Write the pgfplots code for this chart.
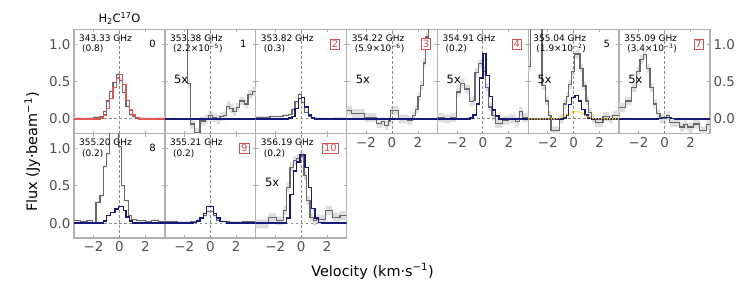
\documentclass[border=0pt]{standalone}
\usepackage{pgfplots}
\pgfplotsset{compat=1.18}
\usepgfplotslibrary{fillbetween}
\usepackage{pgfplotstable}
\usepackage{fontspec}
\setmainfont{DejaVu Sans}
\definecolor{dgray}{RGB}{105,105,105}
\definecolor{bandc}{RGB}{222,222,222}
\definecolor{mnavy}{RGB}{25,25,120}
\definecolor{mred}{RGB}{228,85,85}
\definecolor{myel}{RGB}{255,215,0}
\definecolor{framec}{RGB}{176,176,176}
\definecolor{ticklab}{RGB}{80,80,80}
\definecolor{boxred}{RGB}{215,80,80}
\definecolor{zerol}{RGB}{140,140,140}

\pgfplotsset{
  panel/.style={
    scale only axis, width=90.857bp, height=104.25bp, anchor=south west,
    xmin=-3.5, xmax=3.5, ymin=-0.2, ymax=1.2,
    xtick={-2,0,2}, ytick={0,0.5,1},
    xticklabels={,,}, yticklabels={,,},
    tick align=inside, major tick length=3bp,
    axis line style={framec, line width=1.3bp},
    tick style={framec, line width=0.8bp},
    tick label style={font=\fontsize{13.5}{14}\selectfont, text=ticklab},
    clip=true, set layers,
  },
  xlab/.style={xticklabels={−2,0,2}},
  ylabL/.style={yticklabels={0.0,0.5,1.0}},
  ylabR/.style={yticklabels={0.0,0.5,1.0}, yticklabel pos=right},
  obs/.style={dgray, line width=1.2bp, const plot, no marks},
  mod/.style={mnavy, line width=1.3bp, const plot, no marks},
  modr/.style={mred, line width=1.3bp, const plot, no marks},
}
\tikzset{
  zl/.style={zerol, line width=0.8bp, dash pattern=on 2.5bp off 2.5bp},
  freq/.style={anchor=north west, inner sep=0pt, align=left, font=\fontsize{9}{10.5}\selectfont},
  num/.style={anchor=east, inner sep=1.5pt, font=\fontsize{10}{11}\selectfont},
  rnum/.style={anchor=east, inner sep=1.5pt, draw=boxred, fill=white, text=boxred, line width=0.6bp, font=\fontsize{10}{11}\selectfont},
  fivex/.style={anchor=west, inner sep=0pt, font=\fontsize{11.5}{12}\selectfont},
}
% band: step-shaped uncertainty band of half-width #2 around table #1
\newcommand{\band}[2]{%
  \addplot[draw=none, const plot, no marks, name path=bu] table[y expr=\thisrow{y}+#2] {#1};
  \addplot[draw=none, const plot, no marks, name path=bl] table[y expr=\thisrow{y}-#2] {#1};
  \addplot[bandc, draw=none] fill between[of=bu and bl];
}

% ---------- data (x = left channel edge, y in Jy/beam) ----------
\pgfplotstableread[row sep=\\]{x y\\ -3.5 0.01\\ -3.0 0.0\\ -2.5 0.01\\ -2.0 0.02\\ -1.5 0.03\\ -1.25 0.1\\ -1.0 0.24\\ -0.75 0.37\\ -0.5 0.49\\ -0.25 0.6\\ 0.0 0.52\\ 0.25 0.35\\ 0.5 0.17\\ 0.75 0.06\\ 1.0 0.03\\ 1.25 0.01\\ 2.0 0.0\\ 2.75 0.01\\ 3.5 0.01\\}\gA
\pgfplotstableread[row sep=\\]{x y\\ -3.5 0.0\\ -1.5 0.01\\ -1.25 0.05\\ -1.0 0.14\\ -0.75 0.27\\ -0.5 0.42\\ -0.25 0.55\\ 0.0 0.6\\ 0.25 0.46\\ 0.5 0.25\\ 0.75 0.12\\ 1.0 0.05\\ 1.25 0.02\\ 1.5 0.0\\ 3.5 0.0\\}\rA
\pgfplotstableread[row sep=\\]{x y\\ -3.5 0\\ 3.5 0\\}\mFlat
\pgfplotstableread[row sep=\\]{x y\\ -3.5 2.0\\ -1.75 0.47\\ -1.55 -0.07\\ -1.2 -0.18\\ -0.8 -0.03\\ -0.4 0.0\\ -0.15 0.04\\ 0.2 0.02\\ 0.5 -0.01\\ 0.75 0.03\\ 1.0 0.04\\ 1.25 0.17\\ 1.5 0.14\\ 1.75 0.1\\ 2.0 0.15\\ 2.25 0.24\\ 2.65 0.2\\ 2.9 0.33\\ 3.25 0.37\\ 3.5 0.37\\}\gB
\pgfplotstableread[row sep=\\]{x y\\ -3.5 0.02\\ -2.4 0.03\\ -1.4 0.05\\ -0.95 0.06\\ -0.7 0.13\\ -0.47 0.23\\ -0.22 0.33\\ 0.03 0.22\\ 0.28 0.09\\ 0.54 0.03\\ 0.8 0.01\\ 1.5 0.0\\ 2.5 0.01\\ 3.5 0.01\\}\gC
\pgfplotstableread[row sep=\\]{x y\\ -3.5 0\\ -0.95 0.01\\ -0.7 0.03\\ -0.47 0.14\\ -0.22 0.27\\ 0.03 0.29\\ 0.28 0.16\\ 0.54 0.05\\ 0.8 0.01\\ 1.05 0.0\\ 3.5 0\\}\mC
\pgfplotstableread[row sep=\\]{x y\\ -3.5 0.11\\ -3.1 0.07\\ -2.1 0.02\\ -1.2 -0.06\\ -0.8 -0.04\\ -0.55 -0.09\\ -0.3 -0.03\\ -0.1 0.11\\ 0.5 0.0\\ 1.2 -0.02\\ 1.55 0.04\\ 1.8 0.13\\ 2.0 0.3\\ 2.2 0.45\\ 2.4 0.75\\ 2.6 1.1\\ 2.8 1.5\\ 3.5 1.5\\}\gD
\pgfplotstableread[row sep=\\]{x y\\ -3.5 0.02\\ -3.0 0.0\\ -2.5 0.02\\ -2.05 0.36\\ -1.75 0.48\\ -1.4 0.4\\ -1.0 0.23\\ -0.75 0.25\\ -0.6 0.62\\ -0.35 0.74\\ -0.05 0.64\\ 0.2 0.42\\ 0.45 0.16\\ 0.7 0.04\\ 0.95 -0.06\\ 1.5 -0.02\\ 2.0 0.0\\ 2.5 -0.04\\ 2.8 0.1\\ 3.05 0.02\\ 3.5 0.02\\}\gE
\pgfplotstableread[row sep=\\]{x y\\ -3.5 0\\ -1.0 0.01\\ -0.75 0.05\\ -0.5 0.2\\ -0.25 0.55\\ 0.0 0.88\\ 0.25 0.58\\ 0.5 0.3\\ 0.75 0.12\\ 1.0 0.04\\ 1.25 0.0\\ 3.5 0\\}\mE
\pgfplotstableread[row sep=\\]{x y\\ -3.5 0.7\\ -3.3 1.5\\ -2.45 0.45\\ -2.2 0.24\\ -1.95 0.05\\ -1.75 -0.16\\ -1.1 0.0\\ -0.8 0.2\\ -0.55 0.3\\ -0.42 0.46\\ -0.17 0.64\\ 0.09 0.87\\ 0.48 0.68\\ 0.72 0.44\\ 0.95 0.24\\ 1.15 0.08\\ 1.4 0.0\\ 1.65 -0.05\\ 2.25 0.03\\ 2.75 0.0\\ 3.0 0.05\\ 3.5 0.05\\}\gF
\pgfplotstableread[row sep=\\]{x y\\ -3.5 0\\ -0.8 0.01\\ -0.55 0.05\\ -0.42 0.19\\ -0.17 0.29\\ 0.09 0.31\\ 0.35 0.24\\ 0.6 0.13\\ 0.86 0.05\\ 1.1 0.01\\ 1.35 0.0\\ 3.5 0\\}\mF
\pgfplotstableread[row sep=\\]{x y\\ -3.5 0\\ -1.5 0.0\\ -1.25 0.005\\ -1.0 0.015\\ -0.75 0.03\\ -0.5 0.055\\ -0.25 0.08\\ 0.0 0.097\\ 0.15 0.1\\ 0.3 0.097\\ 0.55 0.08\\ 0.8 0.055\\ 1.05 0.03\\ 1.3 0.015\\ 1.55 0.005\\ 1.8 0.0\\ 3.5 0\\}\yF
\pgfplotstableread[row sep=\\]{x y\\ -3.5 0.15\\ -3.04 0.24\\ -2.53 0.42\\ -2.15 0.64\\ -1.89 0.8\\ -1.63 0.86\\ -1.38 0.68\\ -1.12 0.42\\ -0.86 0.2\\ -0.6 0.07\\ -0.35 0.0\\ 0.16 0.04\\ 0.4 -0.05\\ 1.18 -0.11\\ 1.5 -0.08\\ 1.75 -0.11\\ 2.2 -0.07\\ 2.72 -0.16\\ 3.23 -0.08\\ 3.5 -0.08\\}\gG
\pgfplotstableread[row sep=\\]{x y\\ -3.5 0\\ -0.5 0.005\\ -0.25 0.015\\ 0.0 0.02\\ 0.25 0.015\\ 0.5 0.005\\ 0.75 0\\ 3.5 0\\}\mG
\pgfplotstableread[row sep=\\]{x y\\ -3.5 0.03\\ -3.0 0.02\\ -2.5 0.03\\ -2.05 0.0\\ -1.8 0.28\\ -1.5 0.37\\ -1.25 0.76\\ -1.0 0.93\\ -0.75 1.3\\ -0.35 1.25\\ -0.1 1.03\\ 0.17 0.5\\ 0.42 0.3\\ 0.67 0.1\\ 0.92 0.05\\ 1.3 0.03\\ 2.0 0.02\\ 2.5 0.04\\ 3.0 0.02\\ 3.5 0.02\\}\gH
\pgfplotstableread[row sep=\\]{x y\\ -3.5 0\\ -1.5 0.0\\ -1.23 0.03\\ -0.97 0.1\\ -0.71 0.14\\ -0.33 0.19\\ -0.08 0.22\\ 0.3 0.17\\ 0.51 0.08\\ 0.76 0.03\\ 1.02 0.0\\ 3.5 0\\}\mH
\pgfplotstableread[row sep=\\]{x y\\ -3.5 0.02\\ -2.5 0.01\\ -1.5 0.02\\ -1.05 0.04\\ -0.79 0.07\\ -0.53 0.1\\ -0.28 0.16\\ 0.23 0.1\\ 0.49 0.04\\ 0.74 0.02\\ 1.5 0.01\\ 2.5 0.02\\ 3.5 0.02\\}\gI
\pgfplotstableread[row sep=\\]{x y\\ -3.5 0\\ -1.3 0.01\\ -1.05 0.03\\ -0.79 0.07\\ -0.53 0.13\\ -0.28 0.22\\ 0.23 0.13\\ 0.49 0.07\\ 0.74 0.02\\ 1.26 0\\ 3.5 0\\}\mI
\pgfplotstableread[row sep=\\]{x y\\ -3.5 -0.01\\ -2.5 0.07\\ -1.9 0.03\\ -1.37 0.17\\ -1.12 0.48\\ -0.86 0.75\\ -0.6 0.84\\ -0.35 0.87\\ -0.09 0.9\\ 0.22 0.64\\ 0.42 0.3\\ 0.68 0.08\\ 0.93 0.03\\ 1.2 0.05\\ 1.9 0.17\\ 2.4 0.08\\ 3.0 0.1\\ 3.5 0.1\\}\gJ
\pgfplotstableread[row sep=\\]{x y\\ -3.5 0\\ -1.37 0.0\\ -1.12 0.07\\ -0.86 0.38\\ -0.6 0.7\\ -0.35 0.82\\ -0.09 0.92\\ 0.29 0.75\\ 0.55 0.48\\ 0.8 0.2\\ 1.06 0.07\\ 1.32 0.01\\ 1.57 0\\ 3.5 0\\}\mJ

\begin{document}
\begin{tikzpicture}[x=1bp,y=1bp]
% ---------------- top row ----------------
% panel 0
\begin{axis}[panel, ylabL, at={(74bp,165.25bp)}]
\band{\gA}{0.015}
\draw[zl] (0,-0.2) -- (0,1.2); \draw[zl] (-3.5,0) -- (3.5,0);
\addplot[obs] table {\gA};
\addplot[modr] table {\rA};
\node[freq] at (rel axis cs:0,1) [xshift=5bp,yshift=-5bp] {343.33 GHz\\\hspace*{3pt}(0.8)};
\node[num] at (rel axis cs:1,1) [xshift=-7.5bp,yshift=-14.5bp] {0};
\end{axis}
\node[anchor=base, font=\fontsize{11.5}{12}\selectfont] at (119.5bp,276.5bp) {H\textsubscript{2}C\textsuperscript{17}O};
% panel 1
\begin{axis}[panel, at={(164.857bp,165.25bp)}]
\band{\gB}{0.06}
\draw[zl] (0,-0.2) -- (0,1.2); \draw[zl] (-3.5,0) -- (3.5,0);
\addplot[obs] table {\gB};
\addplot[mod] table {\mFlat};
\node[freq] at (rel axis cs:0,1) [xshift=5bp,yshift=-5bp] {353.38 GHz\\\hspace*{3pt}(2.2×10\textsuperscript{−5})};
\node[num] at (rel axis cs:1,1) [xshift=-7.5bp,yshift=-14.5bp] {1};
\node[fivex] at (-2.8,0.53) {5x};
\end{axis}
% panel 2
\begin{axis}[panel, at={(255.714bp,165.25bp)}]
\band{\gC}{0.015}
\draw[zl] (0,-0.2) -- (0,1.2); \draw[zl] (-3.5,0) -- (3.5,0);
\addplot[obs] table {\gC};
\addplot[mod] table {\mC};
\node[freq] at (rel axis cs:0,1) [xshift=5bp,yshift=-5bp] {353.82 GHz\\\hspace*{3pt}(0.3)};
\node[rnum] at (rel axis cs:1,1) [xshift=-6.5bp,yshift=-14.5bp] {2};
\end{axis}
% panel 3
\begin{axis}[panel, xlab, at={(346.571bp,165.25bp)}]
\band{\gD}{0.06}
\draw[zl] (0,-0.2) -- (0,1.2); \draw[zl] (-3.5,0) -- (3.5,0);
\addplot[obs] table {\gD};
\addplot[mod] table {\mFlat};
\node[freq] at (rel axis cs:0,1) [xshift=5bp,yshift=-5bp] {354.22 GHz\\\hspace*{3pt}(5.9×10\textsuperscript{−6})};
\node[rnum] at (rel axis cs:1,1) [xshift=-6.5bp,yshift=-14.5bp] {3};
\node[fivex] at (-2.8,0.53) {5x};
\end{axis}
% panel 4
\begin{axis}[panel, xlab, at={(437.429bp,165.25bp)}]
\band{\gE}{0.06}
\draw[zl] (0,-0.2) -- (0,1.2); \draw[zl] (-3.5,0) -- (3.5,0);
\addplot[obs] table {\gE};
\addplot[mod] table {\mE};
\node[freq] at (rel axis cs:0,1) [xshift=5bp,yshift=-5bp] {354.91 GHz\\\hspace*{3pt}(0.2)};
\node[rnum] at (rel axis cs:1,1) [xshift=-6.5bp,yshift=-14.5bp] {4};
\node[fivex] at (-2.8,0.53) {5x};
\end{axis}
% panel 5
\begin{axis}[panel, xlab, at={(528.286bp,165.25bp)}]
\band{\gF}{0.06}
\draw[zl] (0,-0.2) -- (0,1.2); \draw[zl] (-3.5,0) -- (3.5,0);
\addplot[obs] table {\gF};
\addplot[mod] table {\mF};
\addplot[myel, line width=1.4bp, dash pattern=on 1.4bp off 1.4bp, no marks] table {\yF};
\node[freq] at (rel axis cs:0,1) [xshift=5bp,yshift=-5bp] {355.04 GHz\\\hspace*{3pt}(1.9×10\textsuperscript{−2})};
\node[num] at (rel axis cs:1,1) [xshift=-7.5bp,yshift=-14.5bp] {5};
\node[fivex] at (-2.8,0.53) {5x};
\end{axis}
% panel 7
\begin{axis}[panel, xlab, ylabR, at={(619.143bp,165.25bp)}]
\band{\gG}{0.06}
\draw[zl] (0,-0.2) -- (0,1.2); \draw[zl] (-3.5,0) -- (3.5,0);
\addplot[obs] table {\gG};
\addplot[mod] table {\mG};
\node[freq] at (rel axis cs:0,1) [xshift=5bp,yshift=-5bp] {355.09 GHz\\\hspace*{3pt}(3.4×10\textsuperscript{−3})};
\node[rnum] at (rel axis cs:1,1) [xshift=-6.5bp,yshift=-14.5bp] {7};
\node[fivex] at (-2.8,0.53) {5x};
\end{axis}
% ---------------- bottom row ----------------
% panel 8
\begin{axis}[panel, xlab, ylabL, at={(74bp,61bp)}]
\band{\gH}{0.015}
\draw[zl] (0,-0.2) -- (0,1.2); \draw[zl] (-3.5,0) -- (3.5,0);
\addplot[obs] table {\gH};
\addplot[mod] table {\mH};
\node[freq] at (rel axis cs:0,1) [xshift=5bp,yshift=-5bp] {355.20 GHz\\\hspace*{3pt}(0.2)};
\node[num] at (rel axis cs:1,1) [xshift=-7.5bp,yshift=-14.5bp] {8};
\end{axis}
% panel 9
\begin{axis}[panel, xlab, at={(164.857bp,61bp)}]
\band{\gI}{0.015}
\draw[zl] (0,-0.2) -- (0,1.2); \draw[zl] (-3.5,0) -- (3.5,0);
\addplot[obs] table {\gI};
\addplot[mod] table {\mI};
\node[freq] at (rel axis cs:0,1) [xshift=5bp,yshift=-5bp] {355.21 GHz\\\hspace*{3pt}(0.2)};
\node[rnum] at (rel axis cs:1,1) [xshift=-6.5bp,yshift=-14.5bp] {9};
\end{axis}
% panel 10
\begin{axis}[panel, xlab, at={(255.714bp,61bp)}]
\band{\gJ}{0.06}
\draw[zl] (0,-0.2) -- (0,1.2); \draw[zl] (-3.5,0) -- (3.5,0);
\addplot[obs] table {\gJ};
\addplot[mod] table {\mJ};
\node[freq] at (rel axis cs:0,1) [xshift=5bp,yshift=-5bp] {356.19 GHz\\\hspace*{3pt}(0.2)};
\node[rnum] at (rel axis cs:1,1) [xshift=-8bp,yshift=-14.5bp] {10};
\node[fivex] at (-2.8,0.55) {5x};
\end{axis}
% ---------------- labels ----------------
\node[anchor=base, font=\fontsize{14.5}{15}\selectfont] at (372.5bp,23bp) {Velocity (km·s\textsuperscript{−1})};
\node[anchor=base, rotate=90, font=\fontsize{14.5}{15}\selectfont] at (37bp,147bp) {Flux (Jy·beam\textsuperscript{−1})};
\pgfresetboundingbox
\path[use as bounding box] (0,0) rectangle (747bp,299bp);
\end{tikzpicture}
\end{document}
